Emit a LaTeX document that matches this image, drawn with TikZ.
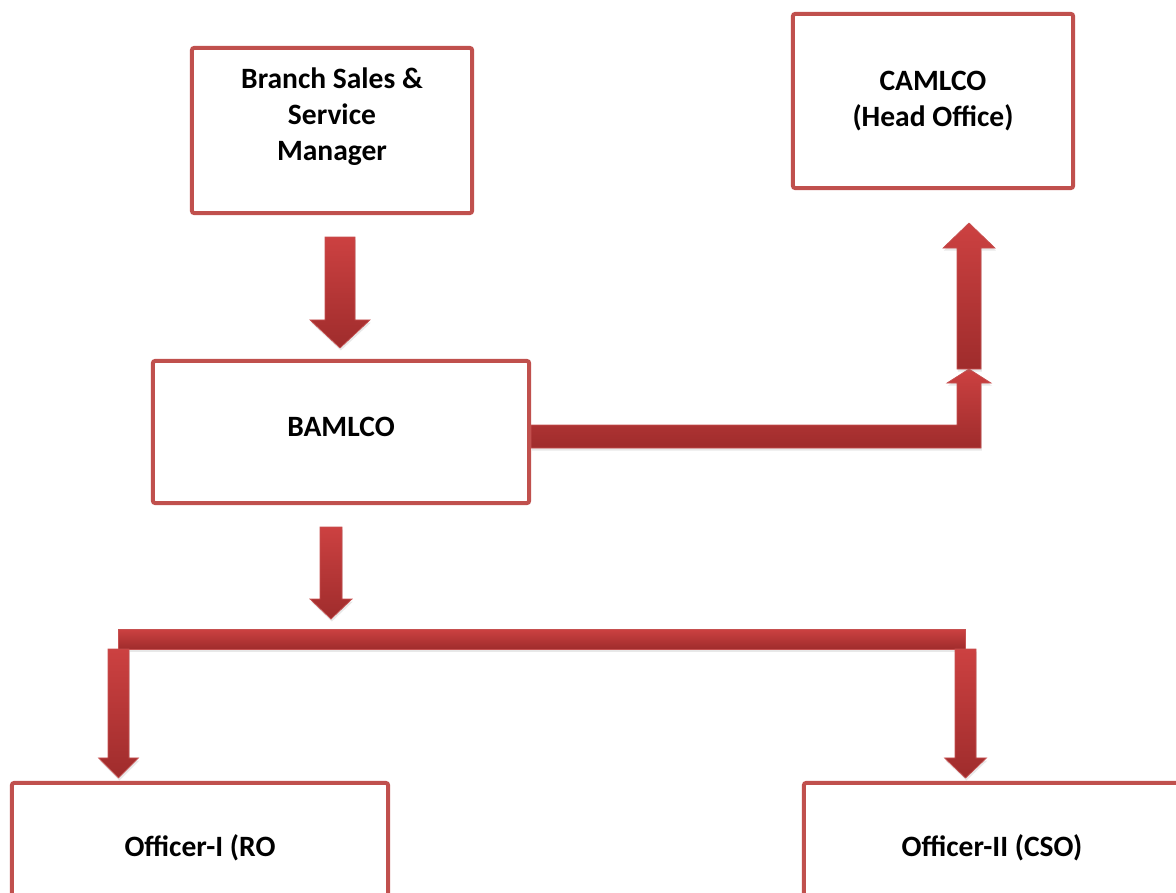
\documentclass[tikz,border=0pt]{standalone}
\usepackage{fontspec}
\setmainfont{Carlito}
\usetikzlibrary{calc,shadows}
\definecolor{boxred}{HTML}{C0504D}
\definecolor{arrtop}{HTML}{CC4141}
\definecolor{arrbot}{HTML}{9F2C2C}
\definecolor{arredge}{HTML}{C65050}

\begin{document}
\begin{tikzpicture}[x=0.025cm, y=-0.025cm,
    box/.style={draw=boxred, line width=0.1cm, rounded corners=1.5pt, fill=white, align=center,
                font=\bfseries\fontsize{21}{25.6}\selectfont, inner sep=0pt,
                minimum width=7cm, minimum height=4.125cm},
    wide/.style={box, minimum width=9.4cm},
    blk/.style={draw=arredge, line width=0.5pt, top color=arrtop, bottom color=arrbot,
                drop shadow={shadow xshift=0.6pt, shadow yshift=-1.8pt, opacity=0.18}},
    blockarrow/.style n args={3}{blk, to path={
        ($(\tikztostart)+(-#1,0)$) -- ($(\tikztotarget)!#3!(\tikztostart)+(-#1,0)$)
        -- ($(\tikztotarget)!#3!(\tikztostart)+(-#2,0)$) -- (\tikztotarget)
        -- ($(\tikztotarget)!#3!(\tikztostart)+(#2,0)$) -- ($(\tikztotarget)!#3!(\tikztostart)+(#1,0)$)
        -- ($(\tikztostart)+(#1,0)$) -- cycle}}]
  \useasboundingbox (0,0) rectangle (1176,893);
  \clip (0,0) rectangle (1176,893);

  % boxes
  \node[box, text depth=23pt] (branch) at (332,130.5) {Branch Sales \&\\Service\\Manager};
  \node[box, minimum height=4.35cm] (camlco) at (933,101) {CAMLCO\\(Head Office)};
  \node[wide, minimum height=3.55cm, text depth=7pt] (bamlco) at (341,432) {BAMLCO};
  \node[wide, minimum height=3.25cm] (off1) at (200,848) {Officer-I (RO};
  \node[wide, minimum height=3.25cm] (off2) at (992,848) {Officer-II (CSO)};

  % arrow ends
  \coordinate (a1s) at ($(branch.south)+(8,22)$);
  \coordinate (a1t) at ($(bamlco.north)+(-1,-11)$);
  \coordinate (joint) at (969,369);
  \coordinate (a2t) at ($(camlco.south)+(36,33)$);
  \coordinate (a3s) at ($(bamlco.south)+(-10,22)$);
  \coordinate (split) at ($(bamlco.south)+(-10,114)$);
  \coordinate (tl) at (118.5,639);
  \coordinate (tr) at (965.5,639);

  % block arrows
  \draw[blockarrow={15}{30}{0.7cm}] (a1s) to (a1t);
  \draw[blk] (bamlco.east |- 0,425) -| (957,383) -- (947,383) -- (joint)
      -- (991,383) -- (981,383) |- (bamlco.east |- 0,448) -- cycle;
  \draw[blockarrow={12}{26}{0.625cm}] (joint) to (a2t);
  \draw[blockarrow={11}{21}{0.5cm}] (a3s) to (split);
  \draw[blk] ($(tl)+(0,-10)$) rectangle ($(tr)+(0,10)$);
  \draw[blockarrow={10.5}{20}{0.5cm}] ($(tl)+(0,10)$) to ($(off1.north)+(-81.5,-3)$);
  \draw[blockarrow={10.5}{21}{0.5cm}] ($(tr)+(0,10)$) to ($(off2.north)+(-26.5,-3)$);
\end{tikzpicture}
\end{document}
